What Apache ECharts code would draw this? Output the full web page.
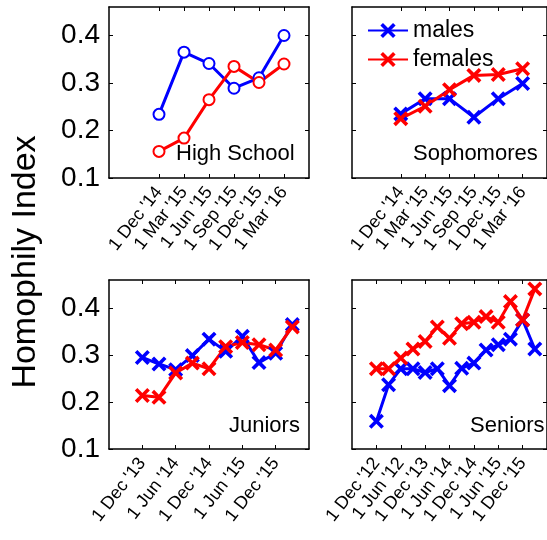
<!DOCTYPE html>
<html>
<head>
<meta charset="utf-8">
<script src="https://cdn.jsdelivr.net/npm/echarts@6/dist/echarts.min.js"></script>
<style>
html,body{margin:0;padding:0;background:#fff;}
#chart{width:547px;height:540px;}
</style>
</head>
<body>
<div id="chart"></div>
<script>
// ---- Data ----
// High School (quarterly, Dec '14 .. Mar '16)
const hsX = [0, 1, 2, 3, 4, 5];
const hsMales = [0.234, 0.365, 0.341, 0.289, 0.311, 0.400];
const hsFemales = [0.156, 0.184, 0.265, 0.335, 0.301, 0.340];
const hsTickPos = [0, 1, 2, 3, 4, 5];
const hsTicks = ["1 Dec '14", "1 Mar '15", "1 Jun '15", "1 Sep '15", "1 Dec '15", "1 Mar '16"];

// Sophomores
const soX = [0, 1, 2, 3, 4, 5];
const soMales = [0.235, 0.267, 0.267, 0.228, 0.267, 0.299];
const soFemales = [0.225, 0.251, 0.286, 0.316, 0.318, 0.330];
const soTickPos = [0, 1, 2, 3, 4, 5];
const soTicks = ["1 Dec '14", "1 Mar '15", "1 Jun '15", "1 Sep '15", "1 Dec '15", "1 Mar '16"];

// Juniors (quarterly, Dec '13 .. Mar '16)
const juX = [0, 1, 2, 3, 4, 5, 6, 7, 8, 9];
const juMales = [0.295, 0.281, 0.269, 0.299, 0.334, 0.308, 0.340, 0.284, 0.304, 0.365];
const juFemales = [0.214, 0.210, 0.262, 0.283, 0.271, 0.318, 0.327, 0.322, 0.311, 0.360];
const juTickPos = [0, 2, 4, 6, 8];
const juTicks = ["1 Dec '13", "1 Jun '14", "1 Dec '14", "1 Jun '15", "1 Dec '15"];

// Seniors (quarterly, Dec '12 .. Mar '16)
const seX = [0, 1, 2, 3, 4, 5, 6, 7, 8, 9, 10, 11, 12, 13];
const seMales = [0.159, 0.237, 0.271, 0.271, 0.263, 0.271, 0.235, 0.272, 0.283, 0.311, 0.322, 0.334, 0.375, 0.313];
const seFemales = [0.271, 0.271, 0.294, 0.313, 0.329, 0.360, 0.336, 0.367, 0.370, 0.382, 0.370, 0.414, 0.375, 0.441];
const seTickPos = [0, 2, 4, 6, 8, 10, 12];
const seTicks = ["1 Dec '12", "1 Jun '12", "1 Dec '13", "1 Jun '14", "1 Dec '14", "1 Jun '15", "1 Dec '15"];

const yTickPos = [0.1, 0.2, 0.3, 0.4];

// ---- Build ----
const FONT = "'Liberation Sans', Arial, Helvetica, sans-serif";
const BLUE = '#0000ff', RED = '#ff0000';
const xPath = 'path://M0,1.7L1.7,0L5,3.3L8.3,0L10,1.7L6.7,5L10,8.3L8.3,10L5,6.7L1.7,10L0,8.3L3.3,5Z';

const panels = [
  { x: soX, m: soMales, f: soFemales, pos: soTickPos, ticks: soTicks, min: -2, max: 6, box: { left: 352, top: 7, width: 200, height: 171 }, yLabels: false, title: 'Sophomores', tl: 413, tt: 143, sym: 'x' },
  { x: hsX, m: hsMales, f: hsFemales, pos: hsTickPos, ticks: hsTicks, min: -2, max: 6, box: { left: 109, top: 7, width: 200, height: 171 }, yLabels: true, title: 'High School', tl: 176, tt: 143, sym: 'o' },
  { x: juX, m: juMales, f: juFemales, pos: juTickPos, ticks: juTicks, min: -2, max: 10, box: { left: 109, top: 280, width: 200, height: 169 }, yLabels: true, title: 'Juniors', tl: 229, tt: 415, sym: 'x' },
  { x: seX, m: seMales, f: seFemales, pos: seTickPos, ticks: seTicks, min: -2, max: 14, box: { left: 352, top: 280, width: 200, height: 169 }, yLabels: false, title: 'Seniors', tl: 470, tt: 415, sym: 'x' }
];

const grid = [], xAxis = [], yAxis = [], series = [], title = [];
panels.forEach((p, i) => {
  grid.push(Object.assign({ containLabel: false, show: false }, p.box));
  const tickStyle = { show: true, inside: true, length: 4, lineStyle: { color: '#000', width: 1 } };
  xAxis.push({
    type: 'value', gridIndex: i, min: p.min, max: p.max, position: 'bottom',
    axisLine: { show: true, onZero: false, lineStyle: { color: '#000', width: 1.5 } },
    axisTick: Object.assign({ customValues: p.pos }, tickStyle),
    splitLine: { show: false },
    axisLabel: {
      customValues: p.pos, rotate: 52, margin: 11, fontSize: 18, fontFamily: FONT, color: '#000',
      formatter: (v) => { const k = p.pos.indexOf(v); return k >= 0 ? p.ticks[k] : ''; }
    }
  });
  xAxis.push({
    type: 'value', gridIndex: i, min: p.min, max: p.max, position: 'top',
    axisLine: { show: true, onZero: false, lineStyle: { color: '#000', width: 1.5 } },
    axisTick: Object.assign({ customValues: p.pos }, tickStyle),
    splitLine: { show: false }, axisLabel: { show: false }
  });
  yAxis.push({
    type: 'value', gridIndex: i, min: 0.1, max: 0.46, position: 'left',
    axisLine: { show: true, onZero: false, lineStyle: { color: '#000', width: 1.5 } },
    axisTick: Object.assign({ customValues: yTickPos }, tickStyle),
    splitLine: { show: false },
    axisLabel: {
      show: p.yLabels, customValues: yTickPos, margin: 9, fontSize: 28, fontFamily: FONT, color: '#000',
      formatter: (v) => v.toFixed(1)
    }
  });
  yAxis.push({
    type: 'value', gridIndex: i, min: 0.1, max: 0.46, position: 'right',
    axisLine: { show: true, onZero: false, lineStyle: { color: '#000', width: 1.5 } },
    axisTick: Object.assign({ customValues: yTickPos }, tickStyle),
    splitLine: { show: false }, axisLabel: { show: false }
  });

  const mk = (name, vals, color) => {
    const isCircle = p.sym === 'o';
    return {
      type: 'line', name: name, xAxisIndex: 2 * i, yAxisIndex: 2 * i,
      data: p.x.map((x, k) => [x, vals[k]]),
      symbol: isCircle ? 'emptyCircle' : xPath,
      symbolSize: isCircle ? 11 : 15,
      showAllSymbol: true,
      lineStyle: { color: color, width: 3 },
      itemStyle: isCircle ? { color: color, borderColor: color, borderWidth: 3 } : { color: color, borderWidth: 0 },
      emphasis: { disabled: true },
      animation: false
    };
  };
  series.push(mk('males', p.m, BLUE));
  series.push(mk('females', p.f, RED));

  title.push({
    text: p.title, left: p.tl, top: p.tt, padding: 0,
    textStyle: { fontSize: 22, fontWeight: 'normal', fontFamily: FONT, color: '#000' }
  });
});

const option = {
  animation: false,
  backgroundColor: '#fff',
  textStyle: { fontFamily: FONT },
  grid, xAxis, yAxis, series, title,
  legend: {
    orient: 'vertical', left: 367, top: 19, padding: 0,
    itemWidth: 40, itemHeight: 19, itemGap: 6,
    data: ['males', 'females'],
    textStyle: { fontSize: 23, fontFamily: FONT, color: '#000' },
    selectedMode: false
  },
  graphic: [{
    type: 'text', x: 26, y: 262, rotation: Math.PI / 2,
    style: { text: 'Homophily Index', fontSize: 34, fontFamily: FONT, fill: '#000', align: 'center', verticalAlign: 'middle' }
  }]
};

const chart = echarts.init(document.getElementById('chart'), null, { renderer: 'canvas' });
chart.setOption(option);
</script>
</body>
</html>
